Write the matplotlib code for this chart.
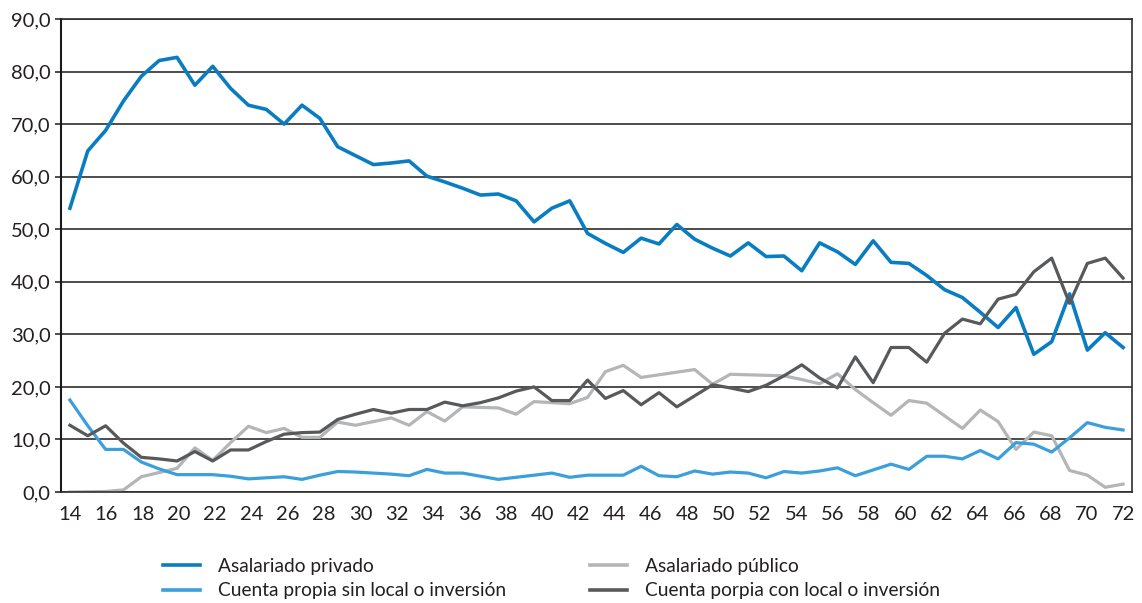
import numpy as np
import matplotlib.pyplot as plt
from matplotlib.lines import Line2D

# share of workers by age (60 observations, labelled 14 ... 72)
privado = [54.0, 64.9, 68.8, 74.4, 79.1, 82.1, 82.7, 77.4, 81.0, 76.8,
           73.6, 72.8, 70.0, 73.6, 71.1, 65.7, 64.0, 62.3, 62.6, 63.0,
           60.1, 59.0, 57.8, 56.5, 56.7, 55.4, 51.4, 54.0, 55.4, 49.2,
           47.3, 45.6, 48.3, 47.2, 50.9, 48.1, 46.4, 44.9, 47.4, 44.8,
           44.9, 42.1, 47.4, 45.7, 43.3, 47.8, 43.7, 43.5, 41.2, 38.5,
           37.0, 34.2, 31.3, 35.1, 26.2, 28.6, 37.7, 27.0, 30.3, 27.5]

publico = [0.0, 0.05, 0.1, 0.4, 2.9, 3.7, 4.5, 8.4, 6.0, 9.4,
           12.5, 11.3, 12.1, 10.4, 10.4, 13.3, 12.7, 13.4, 14.1, 12.7,
           15.3, 13.5, 16.2, 16.1, 16.0, 14.8, 17.2, 17.0, 16.8, 18.0,
           22.9, 24.1, 21.8, 22.3, 22.8, 23.3, 20.5, 22.4, 22.3, 22.2,
           22.1, 21.4, 20.6, 22.5, 19.5, 17.0, 14.6, 17.4, 16.9, 14.5,
           12.1, 15.6, 13.4, 8.1, 11.4, 10.7, 4.1, 3.2, 0.9, 1.5]

sin_local = [17.5, 12.6, 8.1, 8.1, 5.7, 4.4, 3.3, 3.3, 3.3, 3.0,
             2.5, 2.7, 2.9, 2.4, 3.2, 3.9, 3.8, 3.6, 3.4, 3.1,
             4.3, 3.6, 3.6, 3.0, 2.4, 2.8, 3.2, 3.6, 2.8, 3.2,
             3.2, 3.2, 4.9, 3.1, 2.9, 4.0, 3.4, 3.8, 3.6, 2.7,
             3.9, 3.6, 4.0, 4.6, 3.1, 4.2, 5.3, 4.3, 6.8, 6.8,
             6.3, 7.9, 6.3, 9.4, 9.1, 7.6, 10.3, 13.2, 12.3, 11.8]

con_local = [12.7, 10.7, 12.6, 9.3, 6.6, 6.3, 5.9, 7.7, 5.9, 8.0,
             8.0, 9.6, 11.0, 11.3, 11.4, 13.8, 14.8, 15.7, 15.0, 15.7,
             15.7, 17.1, 16.4, 17.0, 17.9, 19.2, 20.0, 17.4, 17.4, 21.3,
             17.8, 19.3, 16.6, 18.9, 16.2, 18.3, 20.4, 19.8, 19.1, 20.3,
             22.1, 24.2, 21.7, 19.8, 25.7, 20.8, 27.5, 27.5, 24.7, 30.2,
             32.9, 32.0, 36.7, 37.6, 41.9, 44.5, 35.9, 43.5, 44.5, 40.7]

age_labels = [str(a) for a in range(14, 73, 2)]
names = ['Asalariado privado', 'Asalariado público',
         'Cuenta propia sin local o inversión', 'Cuenta porpia con local o inversión']
colors = ['#0a7dc2', '#b4b5b7', '#3a9fda', '#58595b']

plt.rcParams['font.family'] = ['Lato', 'DejaVu Sans']
txt = '#231f20'

W, H = 1142, 603
fig = plt.figure(figsize=(W / 100, H / 100), dpi=100)
ax = fig.add_axes([61 / W, 1 - 492 / H, (1132 - 61) / W, (492 - 19) / H])

x = np.arange(len(privado))
ax.plot(x, privado, color=colors[0], lw=2.6)
ax.plot(x, publico, color=colors[1], lw=2.3)
ax.plot(x, sin_local, color=colors[2], lw=2.3)
ax.plot(x, con_local, color=colors[3], lw=2.3)

ax.set_xlim(-0.5, len(privado) - 0.5)
ax.set_ylim(0, 90)
ax.set_yticks(range(0, 91, 10))
ax.set_yticklabels(['%d,0' % v for v in range(0, 91, 10)])
ax.set_xticks(np.linspace(0, len(privado) - 1, len(age_labels)))
ax.set_xticklabels(age_labels)

ax.grid(axis='y', color='#2e2e2e', lw=1.2)
ax.set_axisbelow(True)
for s in ['top', 'bottom', 'right']:
    ax.spines[s].set_color('#2e2e2e')
    ax.spines[s].set_linewidth(1.2)
ax.spines['left'].set_color('#1a1a1a')
ax.spines['left'].set_linewidth(1.5)

ax.tick_params(axis='y', direction='out', length=4, width=1.2, color='#2e2e2e',
               pad=3.5, labelsize=14.5, labelcolor=txt)
ax.tick_params(axis='x', length=0, pad=10, labelsize=14.5, labelcolor=txt)

h = [Line2D([], [], color=c, lw=2.6) for c in colors]
kw = dict(loc='upper left', frameon=False, fontsize=13.8, handlelength=1.95,
          handletextpad=0.9, labelspacing=0.38, borderpad=0, borderaxespad=0,
          labelcolor=txt)
fig.legend([h[0], h[2]], [names[0], names[2]], bbox_to_anchor=(163 / W, 1 - 558 / H), **kw)
fig.legend([h[1], h[3]], [names[1], names[3]], bbox_to_anchor=(590 / W, 1 - 558 / H), **kw)

fig.savefig('out.png', dpi=100)
